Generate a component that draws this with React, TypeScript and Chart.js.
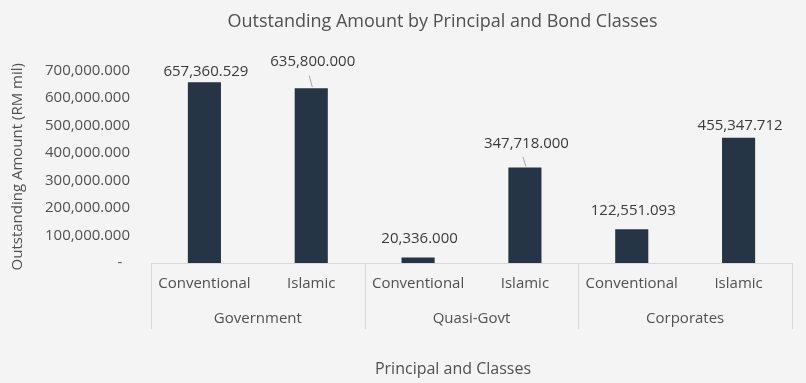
import React, { useEffect, useRef } from "react";
import { Chart, registerables } from "chart.js";

Chart.register(...registerables);

const subCategories = ["Conventional", "Islamic", "Conventional", "Islamic", "Conventional", "Islamic"];
const groups = ["Government", "Quasi-Govt", "Corporates"];
const outstanding = [657360.529, 635800.0, 20336.0, 347718.0, 122551.093, 455347.712];
const yTicks = [0, 100000, 200000, 300000, 400000, 500000, 600000, 700000];

const chartTitle = "Outstanding Amount by Principal and Bond Classes";
const xTitle = "Principal and Classes";
const yTitle = "Outstanding Amount (RM mil)";

const FONT = "'Open Sans', 'Noto Sans', sans-serif";
const AXIS_TEXT = "#505050";
const LABEL_TEXT = "#3a3a3a";
const BAR = "#263545";
const BG = "#f4f4f4";
const LINE = "#d9d9d9";

// label placement (pixels above bar top) and which labels get leader lines
const labelLift = [10.5, 26, 19, 24, 19, 12];
const leader = [false, true, false, true, false, false];

const fmt = (v: number) =>
  v.toLocaleString("en-US", { minimumFractionDigits: 3, maximumFractionDigits: 3 });

const decoPlugin = {
  id: "deco",
  beforeDraw(chart: any) {
    const { ctx, width, height } = chart;
    ctx.save();
    ctx.fillStyle = BG;
    ctx.fillRect(0, 0, width, height);
    ctx.restore();
  },
  afterDraw(chart: any) {
    const { ctx, chartArea } = chart;
    const x = chart.scales.x;
    ctx.save();
    // group separators
    ctx.strokeStyle = LINE;
    ctx.lineWidth = 1;
    for (let i = 0; i <= groups.length; i++) {
      const px = Math.round(x.getPixelForValue(2 * i - 0.5)) + 0.5;
      ctx.beginPath();
      ctx.moveTo(px, chartArea.bottom);
      ctx.lineTo(px, chartArea.bottom + 66);
      ctx.stroke();
    }
    // group labels
    ctx.fillStyle = AXIS_TEXT;
    ctx.font = `15px ${FONT}`;
    ctx.textAlign = "center";
    ctx.textBaseline = "middle";
    groups.forEach((g, i) => {
      ctx.fillText(g, x.getPixelForValue(2 * i + 0.5), chartArea.bottom + 55.5);
    });
    // x axis title
    ctx.font = `16px ${FONT}`;
    ctx.fillText(xTitle, 453, 369);
    // chart title
    ctx.font = `18px ${FONT}`;
    ctx.fillText(chartTitle, 442.5, 21.5);
    // data labels
    const meta = chart.getDatasetMeta(0);
    ctx.font = `15px ${FONT}`;
    ctx.fillStyle = LABEL_TEXT;
    meta.data.forEach((bar: any, i: number) => {
      const ly = bar.y - labelLift[i];
      ctx.fillText(fmt(outstanding[i]), bar.x + 1.5, ly);
      if (leader[i]) {
        ctx.strokeStyle = "#a6a6a6";
        ctx.beginPath();
        ctx.moveTo(bar.x - 2, ly + 13.5);
        ctx.lineTo(bar.x + 1, bar.y - 1);
        ctx.stroke();
      }
    });
    ctx.restore();
  },
};

export default function App() {
  const ref = useRef<HTMLCanvasElement | null>(null);
  useEffect(() => {
    if (!ref.current) return;
    const chart = new Chart(ref.current, {
      type: "bar",
      data: {
        labels: subCategories,
        datasets: [
          {
            data: outstanding,
            backgroundColor: BAR,
            borderWidth: 0,
            categoryPercentage: 1,
            barPercentage: 0.31,
          },
        ],
      },
      options: {
        responsive: false,
        animation: false,
        layout: { padding: { top: 70.5, right: 14, bottom: 0, left: 0 } },
        plugins: {
          legend: { display: false },
          tooltip: { enabled: false },
          title: { display: false },
        },
        scales: {
          x: {
            grid: { display: false, drawTicks: false },
            border: { display: true, color: LINE, width: 1 },
            ticks: {
              font: { family: FONT, size: 15 },
              color: AXIS_TEXT,
              padding: 12,
              maxRotation: 0,
              autoSkip: false,
            },
            afterFit: (s: any) => {
              s.height = 120;
            },
          },
          y: {
            min: 0,
            max: 700000,
            afterBuildTicks: (s: any) => {
              s.ticks = yTicks.map((v) => ({ value: v }));
            },
            grid: { display: false, drawTicks: false },
            border: { display: false },
            ticks: {
              font: { family: FONT, size: 15 },
              color: AXIS_TEXT,
              padding: 21,
              callback: (v: any) => (Number(v) === 0 ? "-  " : fmt(Number(v))),
            },
            title: {
              display: true,
              text: yTitle,
              font: { family: FONT, size: 15 },
              color: AXIS_TEXT,
              padding: { top: 9, bottom: 0 },
            },
            afterFit: (s: any) => {
              s.width = 151;
            },
          },
        },
      },
      plugins: [decoPlugin],
    });
    return () => chart.destroy();
  }, []);
  return (
    <div style={{ position: "fixed", left: 0, top: 0, width: 806, height: 383, background: BG }}>
      <canvas ref={ref} width={806} height={383} style={{ width: 806, height: 383, display: "block" }} />
    </div>
  );
}
